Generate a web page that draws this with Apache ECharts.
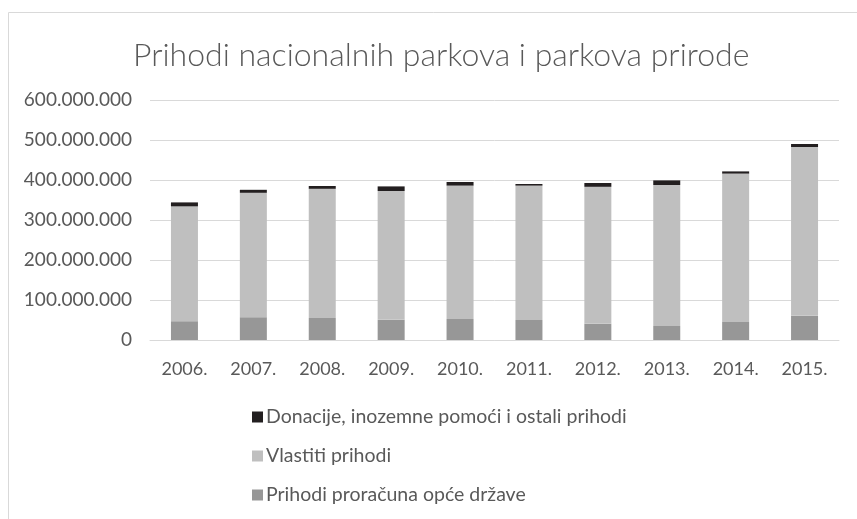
<!DOCTYPE html>
<html>
<head>
<meta charset="utf-8">
<script src="https://cdn.jsdelivr.net/npm/echarts@6/dist/echarts.min.js"></script>
<style>
  html, body { margin: 0; padding: 0; background: #fff; }
  #chart { width: 857px; height: 519px; }
</style>
</head>
<body>
<div id="chart"></div>
<script>
// podaci (procjena iz slike)
var years = ['2006.', '2007.', '2008.', '2009.', '2010.', '2011.', '2012.', '2013.', '2014.', '2015.'];
var proracun = [47000000, 57000000, 55000000, 51000000, 52500000, 50000000, 41000000, 35000000, 45000000, 61000000];
var vlastiti = [287000000, 311000000, 323000000, 321500000, 333500000, 336000000, 342000000, 352500000, 371000000, 421500000];
var donacije = [10000000, 7500000, 7000000, 11500000, 9000000, 4000000, 9500000, 11500000, 5500000, 7500000];
var yTicks = [0, 100000000, 200000000, 300000000, 400000000, 500000000, 600000000];

var names = ['Prihodi proračuna opće države', 'Vlastiti prihodi', 'Donacije, inozemne pomoći i ostali prihodi'];
var colors = ['#979797', '#bfbfbf', '#231f20'];
var txt = '#595959';
var font = 'Lato';

function fmt(v) {
    return String(v).replace(/\B(?=(\d{3})+(?!\d))/g, '.');
}

var myChart = echarts.init(document.getElementById('chart'));
var option = {
    animation: false,
    textStyle: { fontFamily: font },
    title: {
        text: 'Prihodi nacionalnih parkova i parkova prirode',
        left: 128,
        top: 35,
        textStyle: { fontFamily: font, fontSize: 32, fontWeight: 300, color: txt }
    },
    graphic: [{
        type: 'rect',
        shape: { x: 8.5, y: 12.5, width: 900, height: 600 },
        style: { fill: 'none', stroke: '#d9d9d9', lineWidth: 1 },
        silent: true
    }],
    legend: {
        orient: 'vertical',
        left: 247,
        top: 402,
        itemGap: 19,
        itemWidth: 11,
        itemHeight: 11,
        icon: 'rect',
        data: [names[2], names[1], names[0]],
        textStyle: { fontFamily: font, fontSize: 19.5, lineHeight: 20, color: txt, padding: [0, 0, 0, -2] }
    },
    grid: { left: 150, right: 18, top: 100, bottom: 179 },
    xAxis: {
        type: 'category',
        data: years,
        axisLine: { lineStyle: { color: '#d9d9d9', width: 1 } },
        axisTick: { show: false },
        axisLabel: { color: txt, fontSize: 18, fontFamily: font, margin: 20 }
    },
    yAxis: {
        type: 'value',
        min: yTicks[0],
        max: yTicks[yTicks.length - 1],
        interval: 100000000,
        axisLine: { show: false },
        axisTick: { show: false },
        splitLine: { lineStyle: { color: '#d9d9d9', width: 1 } },
        axisLabel: { color: txt, fontSize: 19, fontFamily: font, margin: 18, formatter: fmt }
    },
    series: [
        { name: names[0], type: 'bar', stack: 'p', barWidth: 27, data: proracun, itemStyle: { color: colors[0] } },
        { name: names[1], type: 'bar', stack: 'p', barWidth: 27, data: vlastiti, itemStyle: { color: colors[1] } },
        { name: names[2], type: 'bar', stack: 'p', barWidth: 27, data: donacije, itemStyle: { color: colors[2] } }
    ]
};
myChart.setOption(option);
</script>
</body>
</html>
